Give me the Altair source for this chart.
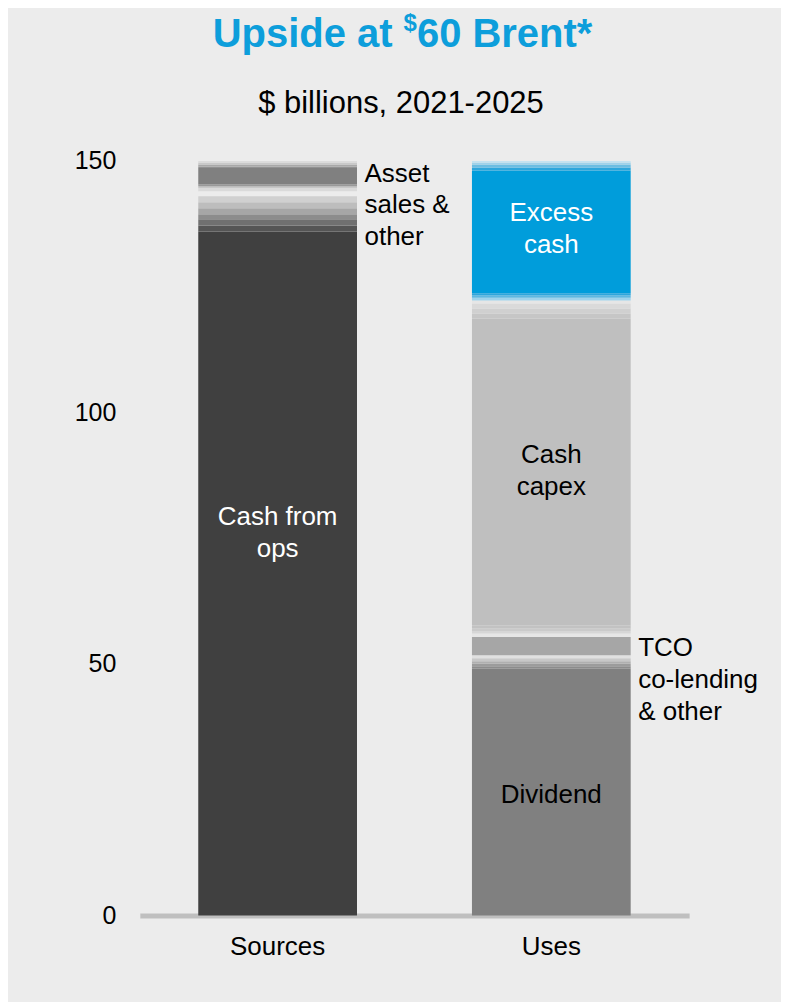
import altair as alt
import pandas as pd

# ---------------- data ($ billions) ----------------
bar_names = ["Sources", "Uses"]

# segment boundaries (bottom -> top) and fills for each bar
sources_bounds = [0, 135.9, 137.1, 138.3, 139.3, 140.5, 141.7, 142.9,
                  143.9, 144.6, 144.9, 145.2, 148.5, 148.8, 149.2, 149.6, 149.9]
sources_fill = ["#404040", "#555555", "#707070", "#8c8c8c", "#a6a6a6", "#bdbdbd", "#d0d0d0",
                None, "#dadada", "#bdbdbd", "#999999", "#808080", "#919191", "#a8a8a8",
                "#c8c8c8", "#dcdcdc"]

uses_bounds = [0, 49.0, 49.5, 50.0, 50.5, 51.1, 51.7, 55.3, 56.0, 56.5, 57.0, 57.6,
               118.6, 119.6, 120.6, 121.6, 122.2, 122.7, 123.2, 123.6,
               148.0, 148.6, 149.2, 149.6, 149.9]
uses_fill = ["#808080", "#8c8c8c", "#9c9c9c", "#b0b0b0", "#c8c8c8", "#e0e0e0",
             "#a6a6a6", "#e6e6e6", "#d6d6d6", "#cacaca", "#c2c2c2",
             "#bfbfbf", "#c6c6c6", "#d0d0d0", "#dadada", "#e6e6e6",
             "#9fd3ec", "#5cb8e2", "#2ea6dc", "#009ddb",
             "#2ea6dc", "#6cbde2", "#9fd2ea", "#c5e3f1"]

# labels inside the bars (value = level of the first text line)
in_text = ["Cash from\nops", "Excess\ncash", "Cash\ncapex", "Dividend"]
in_bar = ["Sources", "Uses", "Uses", "Uses"]
in_value = [79.2, 139.5, 91.5, 24.0]
in_color = ["white", "white", "black", "black"]

# labels beside the bars (value = level of the first text line)
side_text = ["Asset\nsales &\nother", "TCO\nco-lending\n& other"]
side_bar = ["Sources", "Uses"]
side_value = [147.4, 53.2]

y_ticks = [0, 50, 100, 150]

# ---------------- build tables ----------------
rows = []
for name, bounds, fills in (("Sources", sources_bounds, sources_fill),
                            ("Uses", uses_bounds, uses_fill)):
    for i, f in enumerate(fills):
        if f is None:
            continue
        rows.append({"bar": name, "lo": bounds[i], "hi": bounds[i + 1], "fill": f})
seg = pd.DataFrame(rows)

inside = pd.DataFrame({"bar": in_bar, "v": in_value, "t": in_text, "c": in_color})
side = pd.DataFrame({"bar": side_bar, "v": side_value, "t": side_text})

FONT = "Liberation Sans"
W, H = 550, 756

xscale = alt.Scale(domain=bar_names, paddingInner=0.42, paddingOuter=0.2135)
yscale = alt.Scale(domain=[0, 150], nice=False)

bars = alt.Chart(seg).mark_bar(strokeWidth=0).encode(
    x=alt.X("bar:N", scale=xscale, sort=bar_names,
            axis=alt.Axis(title=None, labelAngle=0, ticks=False, labelFontSize=26,
                          labelPadding=18, labelColor="black", labelFont=FONT,
                          domainColor="#bfbfbf", domainWidth=5)),
    y=alt.Y("lo:Q", scale=yscale,
            axis=alt.Axis(title=None, values=y_ticks, ticks=False, domain=False, grid=False,
                          labelFontSize=25, labelPadding=24, labelColor="black", labelFont=FONT)),
    y2="hi:Q",
    color=alt.Color("fill:N", scale=None),
)

inside_txt = alt.Chart(inside).mark_text(
    font=FONT, fontSize=26, lineBreak="\n", lineHeight=32, align="center", baseline="middle"
).encode(
    x=alt.X("bar:N", scale=xscale, sort=bar_names),
    y=alt.Y("v:Q", scale=yscale),
    text="t:N",
    color=alt.Color("c:N", scale=None),
)

side_txt = alt.Chart(side).mark_text(
    font=FONT, fontSize=26, lineBreak="\n", lineHeight=32, align="left", baseline="middle",
    dx=87, color="black"
).encode(
    x=alt.X("bar:N", scale=xscale, sort=bar_names),
    y=alt.Y("v:Q", scale=yscale),
    text="t:N",
)

one = pd.DataFrame({"k": [0]})
BLUE = "#0d9edb"
t1 = alt.Chart(one).mark_text(text="Upside at", font=FONT, fontSize=40, fontWeight="bold",
                              color=BLUE, align="left", baseline="alphabetic").encode(
    x=alt.value(73), y=alt.value(-114))
t2 = alt.Chart(one).mark_text(text="$", font=FONT, fontSize=24, fontWeight="bold",
                              color=BLUE, align="left", baseline="alphabetic").encode(
    x=alt.value(264), y=alt.value(-130))
t3 = alt.Chart(one).mark_text(text="60 Brent*", font=FONT, fontSize=40, fontWeight="bold",
                              color=BLUE, align="left", baseline="alphabetic").encode(
    x=alt.value(277.5), y=alt.value(-114))
sub = alt.Chart(one).mark_text(text="$ billions, 2021-2025", font=FONT, fontSize=31,
                               color="black", align="center", baseline="alphabetic").encode(
    x=alt.value(261.5), y=alt.value(-48))

chart = alt.layer(bars, inside_txt, side_txt, t1, t2, t3, sub).properties(
    width=W, height=H,
    background="#ececec",
    padding={"left": 132, "top": 152, "right": 92, "bottom": 86},
    autosize=alt.AutoSizeParams(type="none"),
).configure_view(stroke=None)

chart.save("out.html", embed_options={"renderer": "svg", "actions": False})
